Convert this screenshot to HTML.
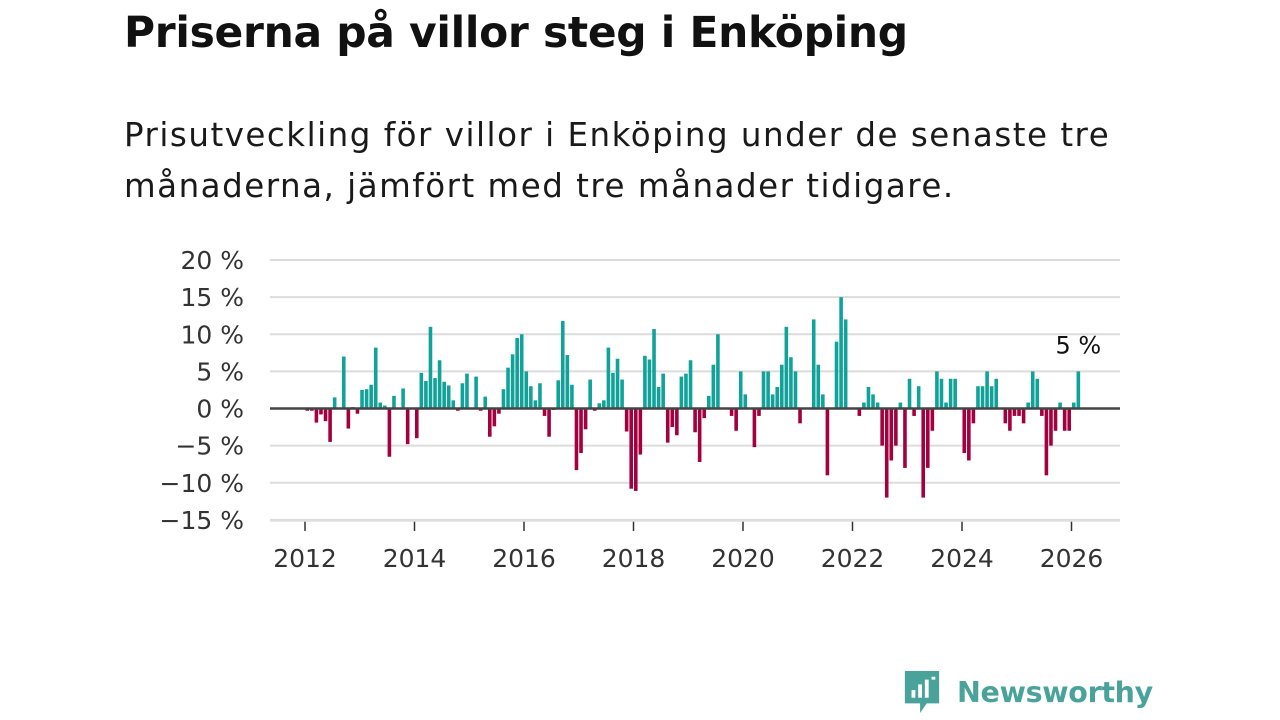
<!DOCTYPE html>
<html><head><meta charset="utf-8">
<style>
body{margin:0;width:1280px;height:720px;background:#fff;font-family:"Liberation Sans","DejaVu Sans",sans-serif;overflow:hidden;position:relative}
h1{position:absolute;left:124px;top:8px;margin:0;font-size:42.4px;font-weight:bold;color:#111;font-family:"DejaVu Sans","Liberation Sans",sans-serif;letter-spacing:-0.3px}
p.sub{position:absolute;left:124px;top:110px;margin:0;font-size:32.5px;line-height:51px;color:#1a1a1a;font-family:"DejaVu Sans","Liberation Sans",sans-serif;font-weight:normal;letter-spacing:1.5px}
svg{position:absolute;left:0;top:0}
</style></head><body>
<h1>Priserna på villor steg i Enköping</h1>
<p class="sub">Prisutveckling för villor i Enköping under de senaste tre<br>månaderna, jämfört med tre månader tidigare.</p>
<svg id="chart" width="1280" height="720"></svg>
<div style="position:absolute;left:902px;top:668px;height:48px;display:flex;align-items:center">
<svg width="40" height="48" viewBox="0 0 42 48" style="position:static"><path d="M3 2h36v34H26l-7 10v-10H3z" fill="#4aa39a"/><rect x="10" y="22" width="4" height="8" fill="#fff"/><rect x="17" y="16" width="4" height="14" fill="#fff"/><rect x="24" y="11" width="4" height="19" fill="#fff"/><rect x="31" y="8" width="4" height="3" fill="#fff"/></svg>
<span style="margin-left:15px;font-size:28.5px;font-weight:bold;color:#4aa39a;font-family:'DejaVu Sans','Liberation Sans',sans-serif;letter-spacing:-0.3px">Newsworthy</span>
</div>
<script>
const values=[-0.3,-0.3,-1.9,-0.8,-1.7,-4.5,1.5,0,7,-2.7,0.2,-0.7,2.5,2.6,3.2,8.2,0.8,0.4,-6.5,1.7,0,2.7,-4.8,0,-4,4.8,3.7,11,4.1,6.5,3.6,3.1,1.1,-0.3,3.4,4.7,0,4.3,-0.3,1.6,-3.8,-2.4,-0.7,2.6,5.5,7.3,9.5,10,5,3,1.1,3.4,-1,-3.8,-0.2,3.8,11.8,7.2,3.2,-8.3,-6,-2.8,3.9,-0.3,0.7,1.1,8.2,4.8,6.7,3.9,-3.1,-10.8,-11.1,-6.2,7.1,6.6,10.7,2.9,4.7,-4.6,-2.5,-3.6,4.3,4.7,6.5,-3.2,-7.2,-1.3,1.7,5.9,10,0,0,-1,-3,5,1.9,0,-5.2,-1,5,5,1.9,2.9,5.9,11,6.9,5,-2,0,0,12,5.9,1.9,-9,0,9,15,12,0,0,-1,0.8,2.9,1.9,0.8,-5,-12,-7,-5,0.8,-8,4,-1,3,-12,-8,-3,5,4,0.8,4,4,0,-6,-7,-2,3,3,5,3,4,0,-2,-3,-1,-1,-2,0.8,5,4,-1,-9,-5,-3,0.8,-3,-3,0.8,5];
const yTicks=[20,15,10,5,0,-5,-10,-15];
const xTickYears=[2012,2014,2016,2018,2020,2022,2024,2026];
const startYear=2012;
const NS="http://www.w3.org/2000/svg";
const svg=document.getElementById('chart');
const y0=408.5, pxPer=7.425, xLeft=270, xRight=1120, x2012=305, pxYear=54.75;
const yS=v=>y0-v*pxPer;
const xS=yr=>x2012+(yr-startYear)*pxYear;
function mk(tag,attrs){const e=document.createElementNS(NS,tag);for(const k in attrs)e.setAttribute(k,attrs[k]);svg.appendChild(e);return e;}
yTicks.forEach(t=>{
  if(t!==0){const g=mk('line',{x1:xLeft,x2:xRight,y1:yS(t),y2:yS(t),stroke:'#dcdcdc','stroke-width':2});
  
  }
  const l=mk('text',{x:244,y:yS(t)+9,'text-anchor':'end','font-size':25,fill:'#333','font-family':'"DejaVu Sans","Liberation Sans",sans-serif'});
  l.textContent=(t<0?'\u2212'+Math.abs(t):t)+' %';
  
  
});
xTickYears.forEach(yr=>{
  const tk=mk('line',{x1:xS(yr),x2:xS(yr),y1:521,y2:531,stroke:'#333','stroke-width':1.5});
  
  
  const l=mk('text',{x:xS(yr),y:567,'text-anchor':'middle','font-size':25,fill:'#333','font-family':'"DejaVu Sans","Liberation Sans",sans-serif'});
  l.textContent=yr;
  
  
});
const axis=mk('line',{x1:xLeft,x2:xRight,y1:521,y2:521,stroke:'#e0e0e0','stroke-width':1.5});


values.forEach((v,i)=>{
  if(v===0)return;
  const cx=xS(startYear+(i+0.5)/12);
  const r=mk('rect',{x:cx-1.8,y:Math.min(yS(v),y0),width:3.6,height:Math.abs(yS(v)-y0),fill:v>0?'#11a39a':'#a3003f'});
  
  
});
const zl=mk('line',{x1:xLeft,x2:xRight,y1:y0,y2:y0,stroke:'#444','stroke-width':2.5});


const last=values[values.length-1];
const lab=mk('text',{x:xS(startYear+(values.length-0.5)/12),y:yS(last)-18,'text-anchor':'middle','font-size':24,fill:'#111','font-family':'"DejaVu Sans","Liberation Sans",sans-serif'});
lab.textContent=last+' %';


</script>
</body></html>
